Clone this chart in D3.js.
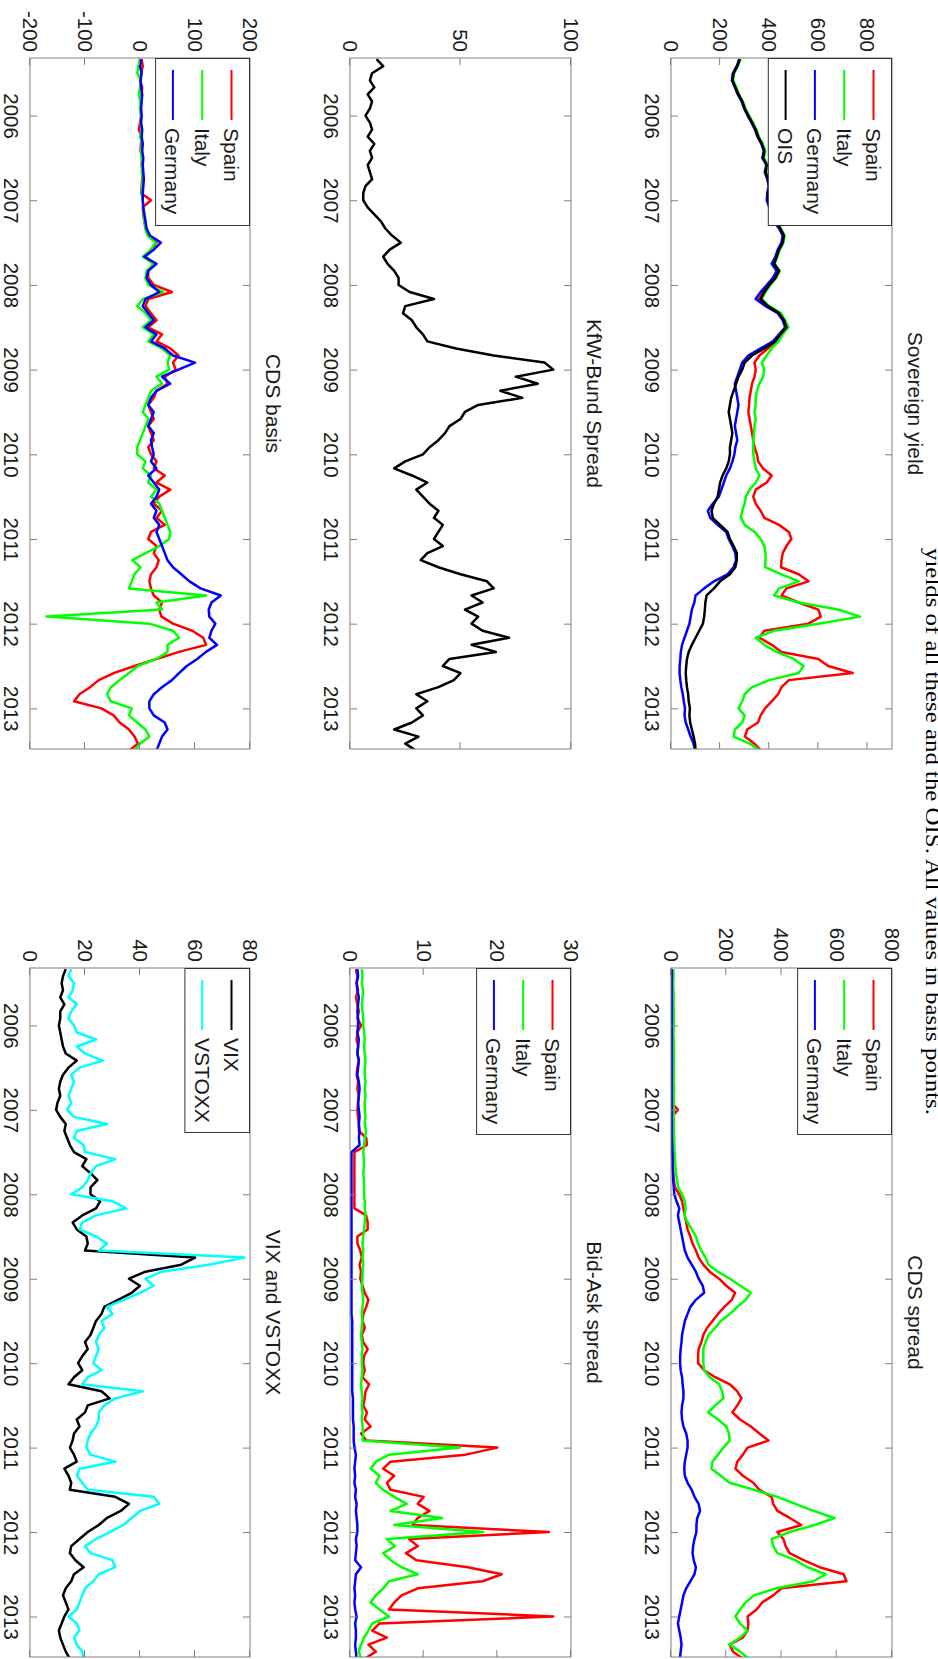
<!DOCTYPE html>
<html>
<head>
<meta charset="utf-8">
<script src="https://cdn.jsdelivr.net/npm/d3@7"></script>
<style>
  body { margin: 0; background: #fff; }
</style>
</head>
<body>
<svg id="fig" width="938" height="1659"></svg>
<script>
// monthly readings, May 2005 .. Jul 2013 (99 points each)

// Sovereign yield (bp)
const sovSpain = [280,268,253,250,262,273,290,300,
  314,330,344,354,370,380,374,390,384,394,400,394,
  393,403,408,423,443,458,453,438,428,416,436,420,
  398,375,358,392,440,458,470,445,425,395,360,340,
  345,340,330,325,320,318,315,320,325,330,335,340,
  350,355,375,410,390,345,335,345,365,380,440,480,
  490,470,455,450,448,520,560,470,450,520,600,610,
  560,380,360,410,450,600,640,740,480,450,436,410,
  383,365,354,310,301,340,367];
const sovItaly = [283,272,257,253,266,277,293,303,
  318,334,348,358,374,384,378,394,388,398,404,398,
  398,408,413,428,448,463,458,443,433,422,442,428,
  405,385,370,400,448,465,478,455,438,410,390,370,
  380,375,360,350,345,345,340,345,340,338,335,335,
  335,340,345,360,345,320,305,300,290,285,300,340,
  365,380,385,385,383,450,520,440,420,520,680,770,
  600,420,345,380,430,500,540,520,400,330,300,290,
  275,300,290,260,255,320,365];
const sovGermany = [278,268,252,248,260,272,288,298,
  312,328,342,352,368,378,372,388,382,392,398,392,
  390,400,405,420,440,455,450,435,425,410,430,415,
  390,365,345,385,435,455,465,440,415,365,315,290,
  280,270,260,265,270,275,270,265,260,265,270,262,
  258,250,240,225,215,205,195,170,150,160,190,225,
  235,250,262,265,255,230,175,135,100,95,85,80,
  75,65,55,45,40,38,35,35,38,42,48,52,
  57,55,60,70,80,92,98];
const sovOIS = [280,270,255,250,262,275,290,300,
  315,330,345,355,370,380,375,390,385,395,400,395,
  395,405,410,425,445,460,455,440,430,420,440,425,
  400,380,365,395,440,460,470,445,425,380,330,300,
  290,275,265,255,245,240,235,240,245,250,245,240,
  240,235,225,210,200,195,190,175,165,170,200,230,
  240,255,268,268,262,240,200,175,145,140,138,135,
  130,115,100,85,72,65,62,60,62,65,70,72,
  77,75,78,85,92,98,100];

// KfW-Bund spread (bp)
const kfwBund = [12,15,10,9,11,8,10,9,
  7,9,10,8,11,9,10,8,9,10,7,6,
  6,8,11,14,16,19,23,18,15,17,20,22,
  22,27,38,25,24,28,30,33,35,48,65,88,
  92,75,85,68,78,58,52,50,45,43,40,36,
  33,25,20,28,35,30,33,36,40,38,42,40,
  38,42,35,32,40,50,62,65,55,60,52,58,
  55,60,72,55,66,45,42,50,47,40,30,35,
  30,33,28,20,31,25,30];

// CDS basis (bp)
const basisSpain = [3,5,2,0,4,3,2,1,
  2,0,-2,3,2,1,4,3,5,4,3,2,
  20,5,6,8,10,15,30,20,10,25,15,15,
  25,58,15,10,20,30,15,40,30,55,70,60,
  65,45,50,30,25,15,20,25,15,20,25,15,
  20,30,25,45,30,55,35,25,40,30,45,20,
  15,30,25,34,30,20,17,20,25,40,35,39,
  60,95,115,120,71,30,-10,-48,-75,-91,-110,-120,
  -70,-48,-37,-20,-10,-4,-20];
const basisItaly = [0,-3,-5,2,0,-2,1,0,
  2,1,3,0,4,2,3,4,3,5,4,3,
  5,6,7,8,10,14,28,20,5,25,12,10,
  15,42,5,-5,10,20,5,25,15,40,55,50,
  53,30,40,20,15,10,5,15,10,5,0,-5,
  -5,10,5,20,15,30,20,35,40,45,50,55,
  53,35,10,-14,1,-10,-15,-20,120,30,40,-170,
  17,60,71,50,50,30,-4,-20,-37,-53,-60,-53,
  -15,-20,-5,10,17,0,-10];
const basisGermany = [2,0,3,1,2,4,3,2,
  3,2,4,3,5,4,6,5,6,7,6,5,
  5,6,8,10,12,18,38,25,8,30,15,12,
  20,35,10,5,15,25,10,30,20,45,60,100,
  70,40,55,30,20,15,25,20,15,25,20,22,
  25,20,30,15,25,35,30,20,30,25,35,30,
  35,40,45,50,60,75,90,110,147,130,125,126,
  137,130,126,140,120,104,85,71,58,40,25,17,
  17,25,45,50,40,35,30];

// CDS spread (bp)
const cdsSpain = [3,3,3,3,3,3,3,3,
  3,3,3,3,3,3,3,3,3,3,3,3,
  25,3,3,3,3,4,5,6,7,8,10,14,
  30,40,45,50,55,60,70,78,90,100,117,140,
  174,200,232,220,193,170,150,130,117,110,100,98,
  98,120,160,213,240,255,240,222,250,289,320,353,
  277,260,240,233,260,298,320,364,370,385,430,472,
  385,407,415,429,480,538,625,635,400,370,330,310,
  277,280,277,260,212,225,260];
const cdsItaly = [8,9,8,9,10,9,10,10,
  10,9,10,10,11,10,10,10,10,11,10,10,
  10,10,10,10,11,12,13,14,16,18,22,26,
  40,50,53,49,60,75,90,98,110,125,136,170,
  213,251,289,270,240,213,180,160,136,125,117,117,
  117,120,140,174,185,190,160,135,170,200,210,212,
  190,170,150,146,180,212,300,385,450,516,592,520,
  429,364,370,385,450,494,560,516,380,300,270,250,
  233,250,277,250,212,250,282];
const cdsGermany = [3,3,3,3,3,3,3,3,
  3,3,3,3,3,3,3,3,3,3,3,3,
  3,3,3,3,3,4,5,6,6,7,8,10,
  12,20,30,25,30,35,40,45,50,60,75,90,
  100,115,120,90,70,60,50,45,40,38,35,33,
  33,35,40,42,45,45,40,38,40,45,55,60,
  60,55,50,48,50,60,75,85,100,105,95,92,
  92,85,80,78,82,90,85,70,55,45,40,35,
  30,25,30,35,38,35,32];

// Bid-Ask spread (bp)
const baSpain = [0.8,1.0,0.9,1.1,0.8,1.0,1.2,1.0,
  1.5,1.0,0.9,1.1,1.0,1.2,1.0,0.9,1.1,1.0,1.2,1.1,
  1.0,1.1,1.2,1.2,2.2,2.3,0.6,0.6,0.6,0.6,0.6,0.6,
  0.6,0.6,0.6,2.2,2.4,2.4,1.0,1.0,1.4,1.6,1.3,1.5,
  1.4,1.7,2.0,2.5,2.2,1.8,1.7,2.0,1.6,1.8,2.4,1.9,
  1.8,2.0,1.7,2.6,2.1,2.0,1.8,2.3,2.0,2.8,1.5,2.2,
  20,15.7,5.5,4.5,6.0,5.0,5.5,10.0,9.2,10.8,9.2,8.5,
  27,8.0,9.2,7.6,9.0,16,20.6,18,9.2,7.0,6.0,5.3,
  27.6,4.0,3.0,5.0,2.5,3.5,2.0];
const baItaly = [1.6,1.7,1.6,1.8,1.7,1.6,1.7,1.8,
  1.8,1.9,2.0,1.9,2.0,2.1,2.0,2.0,2.1,2.0,2.1,2.0,
  2.0,2.1,2.0,2.2,2.0,1.9,1.8,1.9,1.9,1.8,1.9,1.9,
  1.9,2.0,2.0,2.1,2.0,1.9,1.8,1.7,1.8,1.7,1.8,1.7,
  1.7,1.6,1.7,1.8,1.7,1.6,1.7,1.6,1.5,1.6,1.7,1.6,
  1.6,1.7,1.6,1.5,1.6,1.7,1.6,1.7,1.6,1.7,1.8,1.7,
  14.9,5.3,3.5,2.8,4.0,3.5,4.5,6.0,7.7,5.5,12.5,6.0,
  18.1,5.0,6.1,4.5,5.5,7.0,9.2,5.3,4.5,3.5,2.8,4.0,
  5.3,3.0,2.5,1.9,1.5,1.2,1.5];
const baGermany = [1.0,1.1,0.9,1.0,1.2,1.1,1.0,1.1,
  1.1,1.0,1.2,1.1,1.0,1.2,1.1,1.0,1.2,1.3,1.2,1.1,
  1.2,1.3,1.2,1.3,1.2,1.3,0.2,0.2,0.2,0.2,0.2,0.2,
  0.2,0.2,0.2,0.2,0.2,0.2,0.2,0.2,0.2,0.2,0.2,0.2,
  0.2,0.2,0.2,0.2,0.2,0.2,0.3,0.3,0.3,0.3,0.3,0.3,
  0.3,0.3,0.3,0.3,0.3,0.4,0.4,0.4,0.4,0.5,0.5,0.5,
  0.6,0.8,0.7,0.6,0.7,0.6,0.8,0.7,0.9,0.8,0.9,1.0,
  1.0,0.8,0.9,0.8,0.7,1.5,0.8,0.7,0.6,0.7,0.6,0.7,
  0.9,0.7,0.8,0.8,0.7,0.8,0.9];

// VIX and VSTOXX
const vix = [13,12,11.5,12,11,12.5,11,11,
  10.5,11,11.5,12,13,17,14,12,11,10.5,11,10,
  9.5,11,13,12.5,13.5,14.5,16,20.5,19,22,24.5,22,
  22,25.5,24,19,15.5,17,20.5,21,20,60,55,42,
  36,40,37,32,27,26,24,23,22,20,21,19,
  17.5,19,16,14,26,29,21,20,17,18,16,15.5,
  14.5,16,17,12.5,14,15,14.5,31,36,33,28,25,
  21,18,15,14.5,16.5,19.5,16,15,13,12,13,14,
  12.5,11.5,10.5,11,12,13,14.5];
const vstoxx = [15,14,16,15.5,14,17,15,14,
  16,17,24,17,20,26.5,18,15,16,15,14,15,
  13.5,16,28,17,16,19.5,20,31,24,22,21,19,
  15,30,35,24,19,18,24,28,25,78,65,48,
  42,45,40,34,28,30,26,27,25,24,25,24,
  23,26,21,19,41,31,27,25,25,24,22,21,
  20.5,22,31,18,17,19,21,45,47,40,37,34,
  29,24,20,22,30,31,25,23,20,19,18,17,
  14,17,18,16,17,19,19.5];

const yearTicks = [2006, 2007, 2008, 2009, 2010, 2011, 2012, 2013];
const timeDomain = [2005.32, 2013.48];
const months = d3.range(sovOIS.length).map(i => 2005 + (4 + i) / 12);

const RED = "#ff0000", GREEN = "#00ff00", BLUE = "#0000ff", BLACK = "#000000", CYAN = "#00ffff";
const SANS = "'Liberation Sans', Arial, Helvetica, sans-serif";

// box = [left, top, right, bottom] on the page; the figure is turned a quarter clockwise
var panels = [
  {title: "Sovereign yield", box: [671, 58, 892, 749], domain: [0, 900], ticks: [0, 200, 400, 600, 800], legendLen: 167,
   series: [{name: "Spain", values: sovSpain, color: RED}, {name: "Italy", values: sovItaly, color: GREEN},
            {name: "Germany", values: sovGermany, color: BLUE}, {name: "OIS", values: sovOIS, color: BLACK}]},
  {title: "KfW-Bund Spread", box: [350, 58, 571, 749], domain: [0, 100], ticks: [0, 50, 100], legendLen: 0,
   series: [{name: "KfW", values: kfwBund, color: BLACK}]},
  {title: "CDS basis", box: [30, 58, 250, 749], domain: [-200, 200], ticks: [-200, -100, 0, 100, 200], legendLen: 167,
   series: [{name: "Spain", values: basisSpain, color: RED}, {name: "Italy", values: basisItaly, color: GREEN},
            {name: "Germany", values: basisGermany, color: BLUE}]},
  {title: "CDS spread", box: [671, 968, 892, 1657], domain: [0, 800], ticks: [0, 200, 400, 600, 800], legendLen: 166,
   series: [{name: "Spain", values: cdsSpain, color: RED}, {name: "Italy", values: cdsItaly, color: GREEN},
            {name: "Germany", values: cdsGermany, color: BLUE}]},
  {title: "Bid-Ask spread", box: [350, 968, 571, 1657], domain: [0, 30], ticks: [0, 10, 20, 30], legendLen: 166,
   series: [{name: "Spain", values: baSpain, color: RED}, {name: "Italy", values: baItaly, color: GREEN},
            {name: "Germany", values: baGermany, color: BLUE}]},
  {title: "VIX and VSTOXX", box: [30, 968, 250, 1657], domain: [0, 80], ticks: [0, 20, 40, 60, 80], legendLen: 164,
   series: [{name: "VIX", values: vix, color: BLACK}, {name: "VSTOXX", values: vstoxx, color: CYAN}]}
];

var svg = d3.select("#fig");

function drawPanel(p, k) {
  var left = p.box[0], top = p.box[1], right = p.box[2], bottom = p.box[3];
  var W = bottom - top, H = right - left;

  // draw in the unrotated frame, then turn it
  var g = svg.append("g").attr("transform", "translate(" + right + "," + top + ") rotate(90)");

  var x = d3.scaleLinear().domain(timeDomain).range([0, W]);
  var y = d3.scaleLinear().domain(p.domain).range([H, 0]);

  g.append("clipPath").attr("id", "clip" + k)
    .append("rect").attr("width", W).attr("height", H);

  var line = d3.line()
    .x((d, i) => x(months[i]))
    .y(d => y(d));

  g.append("g").attr("clip-path", "url(#clip" + k + ")")
    .selectAll("path")
    .data(p.series)
    .enter().append("path")
    .attr("d", s => line(s.values))
    .attr("fill", "none")
    .attr("stroke", s => s.color)
    .attr("stroke-width", 2.5)
    .attr("stroke-linejoin", "round");

  //*axes, ticks point inward on all four sides
  var plain = d => String(d);
  var axB = g.append("g").attr("transform", "translate(0," + H + ")")
    .call(d3.axisBottom(x).tickValues(yearTicks).tickFormat(plain).tickSize(-7).tickPadding(11));
  var axT = g.append("g")
    .call(d3.axisTop(x).tickValues(yearTicks).tickFormat("").tickSize(-7));
  var axL = g.append("g")
    .call(d3.axisLeft(y).tickValues(p.ticks).tickFormat(plain).tickSize(-7).tickPadding(6));
  var axR = g.append("g").attr("transform", "translate(" + W + ",0)")
    .call(d3.axisRight(y).tickValues(p.ticks).tickFormat("").tickSize(-7));

  [axB, axT, axL, axR].forEach(a => {
    a.select(".domain").remove();
    a.selectAll(".tick line").attr("stroke", "#808080");
    a.selectAll("text").attr("font-size", 20.5).attr("fill", "#1a1a1a")
      .attr("font-family", SANS);
  });

  g.append("rect").attr("width", W).attr("height", H)
    .attr("fill", "none").attr("stroke", "#808080").attr("stroke-width", 1);

  g.append("text")
    .attr("x", W / 2).attr("y", -16)
    .attr("text-anchor", "middle")
    .attr("font-family", SANS)
    .attr("font-size", 21).attr("fill", "#1a1a1a")
    .text(p.title);

  if (p.legendLen > 0) {
    var n = p.series.length;
    var legH = 6 + n * 29.3;
    var leg = g.append("g");
    leg.append("rect")
      .attr("x", 0.5).attr("y", 0.5)
      .attr("width", p.legendLen).attr("height", legH)
      .attr("fill", "#fff").attr("stroke", "#333").attr("stroke-width", 1);
    p.series.forEach((s, j) => {
      var yy = 18.5 + j * 29.3;
      leg.append("line")
        .attr("x1", 12).attr("x2", 62).attr("y1", yy).attr("y2", yy)
        .attr("stroke", s.color).attr("stroke-width", 2);
      leg.append("text")
        .attr("x", 70).attr("y", yy).attr("dy", "0.36em")
        .attr("font-family", SANS)
        .attr("font-size", 21).attr("fill", "#1a1a1a")
        .text(s.name);
    });
  }
}

panels.forEach((p, k) => drawPanel(p, k));

// tail of the caption, cut by the page edge
svg.append("text")
  .attr("transform", "translate(926,548) rotate(90)")
  .style("font-family", "'Liberation Serif', 'DejaVu Serif', serif")
  .attr("font-size", 22)
  .attr("fill", "#000")
  .attr("textLength", 567)
  .attr("lengthAdjust", "spacingAndGlyphs")
  .text("yields of all these and the OIS. All values in basis points.");
</script>
</body>
</html>
